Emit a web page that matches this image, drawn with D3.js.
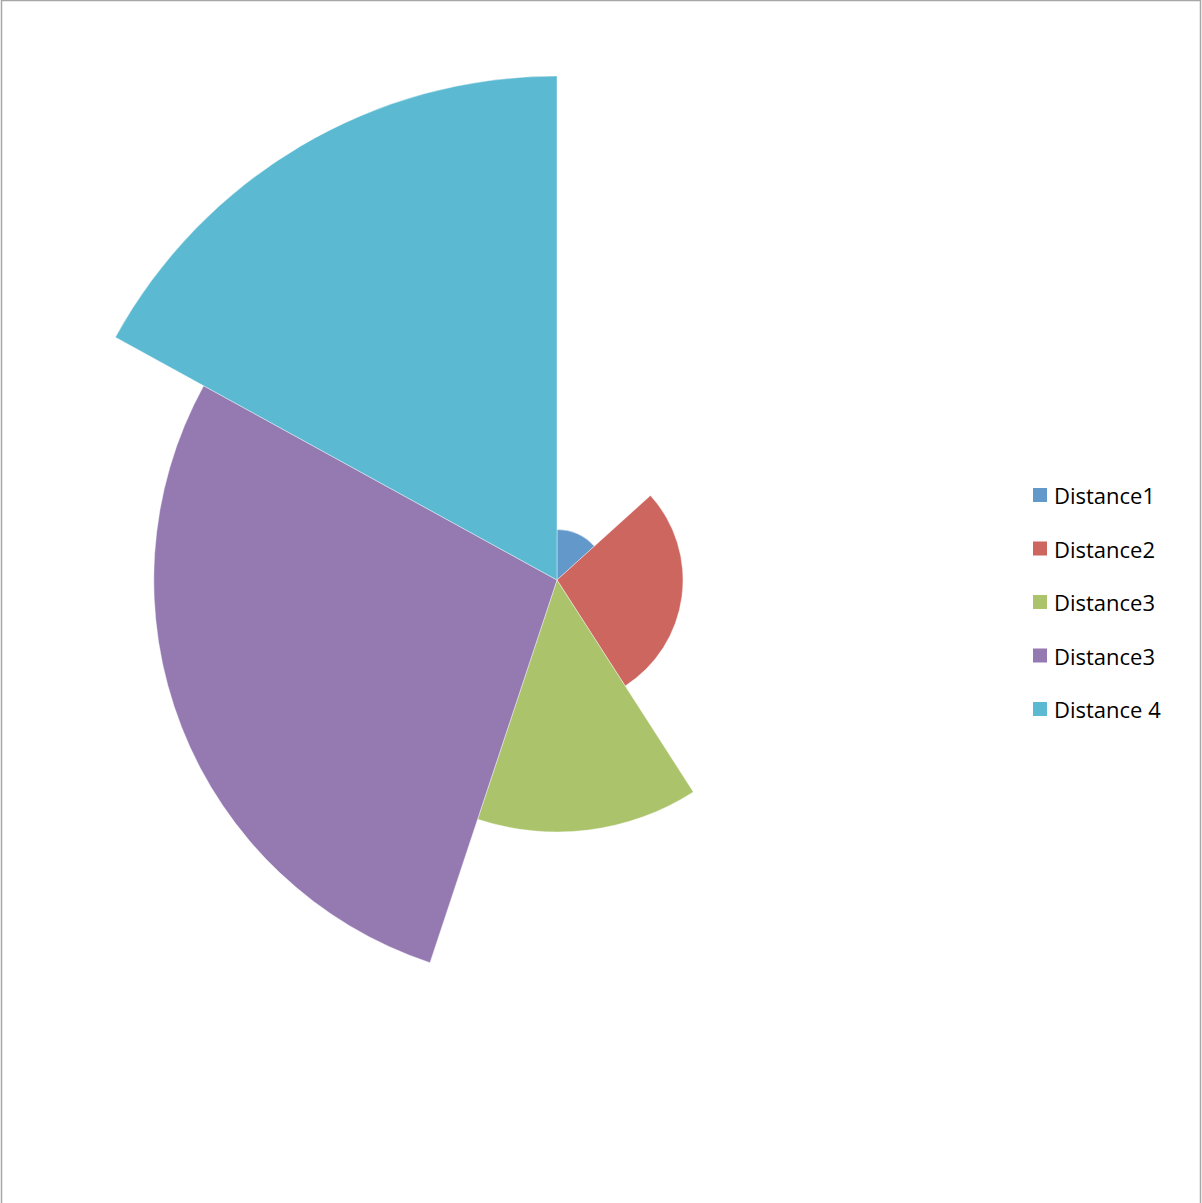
<!DOCTYPE html>
<html>
<head>
<meta charset="utf-8">
<script src="https://cdn.jsdelivr.net/npm/d3@7"></script>
<style>
  body { margin: 0; background: #fff; }
  .legend-label { font-family: "Open Sans", Lato, sans-serif; font-size: 22px; fill: #000; }
</style>
</head>
<body>
<div class="chart"></div>
<script>
const categories = ["Distance1", "Distance2", "Distance3", "Distance3", "Distance 4"]
const shares = [13.3, 27.6, 14.2, 27.9, 17.0]   // angular share, percent
const radii = [1, 2.5, 5, 8, 10]                 // distance values
const colors = ["#6398CA", "#CD665F", "#ABC46B", "#957AB2", "#5BB9D1"]

const width = 1202
const height = 1203
const center = { x: 557, y: 580 }

const data = categories.map((c, i) => ({ name: c, share: shares[i], value: radii[i], color: colors[i] }))

const rScale = d3.scaleLinear()
  .domain([0, 10])
  .range([0, 504])

const pie = d3.pie()
  .sort(null)
  .value(d => d.share)

const arc = d3.arc()
  .innerRadius(0)
  .outerRadius(d => rScale(d.data.value))

const svg = d3.select(".chart")
  .append("svg")
    .attr("width", width)
    .attr("height", height)

// frame
svg.append("rect")
    .attr("x", 1.5)
    .attr("y", 0.5)
    .attr("width", 1199)
    .attr("height", 1210)
    .attr("fill", "none")
    .attr("stroke", "#a6a6a6")
    .attr("stroke-width", 1.5)

const bounds = svg.append("g")
    .attr("transform", `translate(${center.x}, ${center.y})`)

bounds.selectAll(".slice")
  .data(pie(data))
  .join("path")
    .attr("class", "slice")
    .attr("d", arc)
    .attr("fill", d => d.data.color)
    .attr("stroke", "#fff")
    .attr("stroke-width", 0.4)

const legend = svg.append("g")
    .attr("transform", "translate(1033, 488)")

const rows = legend.selectAll(".legend-row")
  .data(data)
  .join("g")
    .attr("class", "legend-row")
    .attr("transform", (d, i) => `translate(0, ${i * 53.5})`)

rows.append("rect")
    .attr("width", 14)
    .attr("height", 14)
    .attr("fill", d => d.color)

rows.append("text")
    .attr("class", "legend-label")
    .attr("x", 21)
    .attr("y", 16)
    .text(d => d.name)
</script>
</body>
</html>
